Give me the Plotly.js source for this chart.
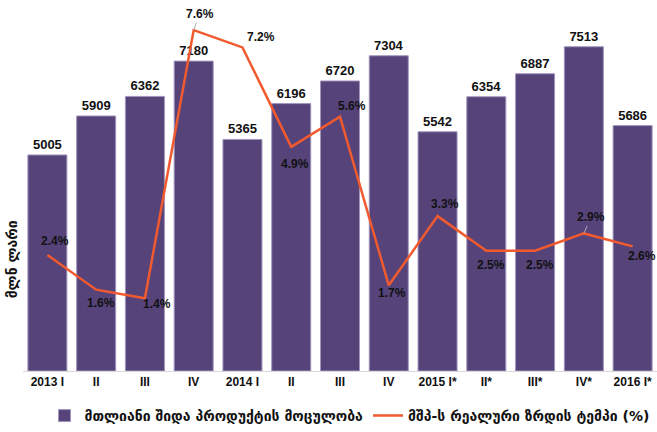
<!DOCTYPE html>
<html>
<head>
<meta charset="utf-8">
<script src="https://cdn.plot.ly/plotly-3.0.1.min.js"></script>
<style>html,body{margin:0;padding:0;background:#fff;}#chart{width:657px;height:432px;}</style>
</head>
<body>
<div id="chart"></div>
<script>
// Data
const quarterLabels = ['2013 I','II','III','IV','2014 I','II','III','IV','2015 I*','II*','III*','IV*','2016 I*'];
const gdpValues = [5005, 5909, 6362, 7180, 5365, 6196, 6720, 7304, 5542, 6354, 6887, 7513, 5686];
const growthValues = [2.4, 1.6, 1.4, 7.6, 7.2, 4.9, 5.6, 1.7, 3.3, 2.5, 2.5, 2.9, 2.6];
const gdpName = 'მთლიანი შიდა პროდუქტის მოცულობა';
const growthName = 'მშპ-ს რეალური ზრდის ტემპი (%)';
const yTitle = 'მლნ ლარი';

// label offsets for growth labels (px): [dx, dy, leader]
const labelOffsets = [[8,-14,0],[5,13,0],[12,6,0],[6,-16,1],[19,-10,0],[4,17,0],[12,-11,0],[3,8,0],[7,-12,0],[5,14,0],[5,14,0],[7,-16,1],[9,10,0]];

const xIdx = quarterLabels.map((_, i) => i);
const FONT = 'Liberation Sans, Arial, sans-serif';
const GFONT = 'DejaVu Sans, sans-serif';

const bars = {
  type: 'bar', x: xIdx, y: gdpValues, name: gdpName,
  marker: {color: '#56437a', line: {color: '#a195bd', width: 1}},
  text: gdpValues.map(String), textposition: 'outside', cliponaxis: false,
  textfont: {family: FONT, size: 13, color: '#111', weight: 'bold'},
  hoverinfo: 'skip'
};
const line = {
  type: 'scatter', mode: 'lines', x: xIdx, y: growthValues, yaxis: 'y2', name: growthName,
  line: {color: '#f15a2e', width: 2.5}, hoverinfo: 'skip'
};

const annotations = growthValues.map((v, i) => {
  const o = labelOffsets[i];
  const base = {
    x: xIdx[i], y: v, xref: 'x', yref: 'y2', text: v.toFixed(1) + '%',
    font: {family: FONT, size: 12, color: '#111', weight: 'bold'}
  };
  if (o[2]) {
    return Object.assign(base, {showarrow: true, arrowhead: 0, arrowwidth: 1, arrowcolor: '#aaa', ax: o[0], ay: o[1], standoff: 0});
  }
  return Object.assign(base, {showarrow: false, xshift: o[0], yshift: -o[1]});
});
annotations.push({
  xref: 'paper', yref: 'paper', x: -0.0174, y: 0.305, text: yTitle, textangle: -90,
  showarrow: false, font: {family: GFONT, size: 14, color: '#111', weight: 'bold'}, xanchor: 'center', yanchor: 'middle'
});

const layout = {
  width: 657, height: 432,
  margin: {l: 23, r: 0, t: 5, b: 60},
  paper_bgcolor: '#fff', plot_bgcolor: '#fff',
  bargap: 0.2,
  showlegend: true,
  legend: {orientation: 'h', x: 0.515, xanchor: 'center', y: -0.122, yanchor: 'middle',
    font: {family: GFONT, size: 14, color: '#111', weight: 'bold'}, itemwidth: 30},
  xaxis: {range: [-0.5, 12.5], tickvals: xIdx, ticktext: quarterLabels, showgrid: false, zeroline: false,
    showline: true, linecolor: '#d9d9d9', linewidth: 1, ticks: '',
    tickfont: {family: FONT, size: 12, color: '#111', weight: 'bold'}},
  yaxis: {range: [0, 8480], showgrid: false, zeroline: false, showticklabels: false, showline: false, ticks: ''},
  yaxis2: {range: [-0.28, 8.18], overlaying: 'y', side: 'right', showgrid: false, zeroline: false, showticklabels: false, showline: false, ticks: ''},
  annotations: annotations
};

Plotly.newPlot('chart', [bars, line], layout, {displayModeBar: false, staticPlot: true});
</script>
</body>
</html>
